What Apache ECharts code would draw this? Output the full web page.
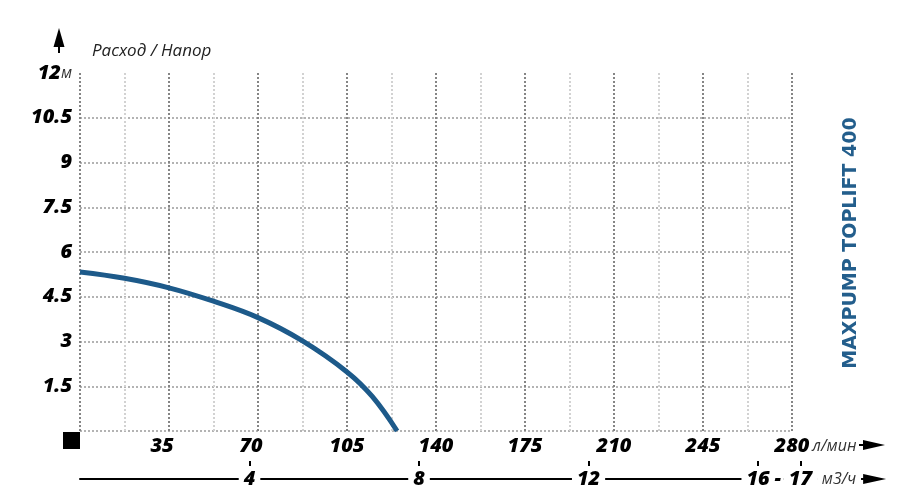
<!DOCTYPE html>
<html><head><meta charset="utf-8">
<script src="https://cdn.jsdelivr.net/npm/echarts@6/dist/echarts.min.js"></script>
<style>html,body{margin:0;padding:0;background:#fff}#c{width:915px;height:501px}</style>
</head><body><div id="c"></div>
<script>
// ---- data ----
const flowLpm = [0, 17.5, 35, 52.5, 70, 87.5, 105, 115, 124.7];
const headM   = [5.33, 5.12, 4.8, 4.35, 3.8, 3.02, 1.98, 1.15, 0];
const flowTicks = [35, 70, 105, 140, 175, 210, 245, 280];
const headTicks = [1.5, 3, 4.5, 6, 7.5, 9, 10.5, 12];
const m3hTicks = [4, 8, 12, 16, 17];
const yTitle = 'Расход / Напор';
const modelName = 'MAXPUMP TOPLIFT 400';
const unitFlow = 'л/мин';
const unitM3 = 'м3/ч';
const unitHead = 'м';

// ---- styles ----
const blue = '#1d5a8a';
const numFont = '"Open Sans", "Liberation Sans", sans-serif';
const numStyle = {fontFamily: numFont, fontSize: 20, fontWeight: 800, fontStyle: 'italic', color: '#000', lineHeight: 22};
const unitStyle = {fontFamily: numFont, fontSize: 16, fontWeight: 'normal', fontStyle: 'italic', color: '#333', lineHeight: 22};

const chart = echarts.init(document.getElementById('c'), null, {renderer: 'canvas'});
const seriesData = flowLpm.map((x, i) => [x, headM[i]]);

// the m³/h axis continues past the last tick up to its arrow (same px scale as 280 л/мин = 16.8 м³/ч)
const m3hAxisMax = 18.75;
const m3hLabelValues = m3hTicks.concat([m3hAxisMax]);

const option = {
  animation: false,
  grid: [
    {left: 80, right: 123, top: 73, bottom: 70, containLabel: false, outerBoundsMode: 'none'},
    {left: 80, right: 40.4, top: 470, height: 9, containLabel: false, outerBoundsMode: 'none'}
  ],
  xAxis: [
    {
      gridIndex: 0, type: 'value', min: 0, max: 280, interval: 35,
      axisLine: {show: false}, axisTick: {show: false},
      axisLabel: {
        margin: 4,
        showMinLabel: true, showMaxLabel: true, hideOverlap: false,
        customValues: flowTicks,
        formatter: v => v === flowTicks[flowTicks.length - 1]
          ? '{p|}{n|' + v + '}{u|' + unitFlow + '}'
          : (v < 100 ? '{n2|' + v + '}' : '{n|' + v + '}'),
        rich: {
          n: numStyle,
          n2: Object.assign({}, numStyle, {padding: [0, 14, 0, 0]}),
          u: Object.assign({}, unitStyle, {width: 50, align: 'left'}),
          p: {width: 50}
        }
      },
      splitLine: {show: true, lineStyle: {color: '#858585', width: 2, type: [2, 2]}},
      minorTick: {show: false, splitNumber: 2},
      minorSplitLine: {show: true, lineStyle: {color: '#d2d2d2', width: 2, type: [2, 2]}}
    },
    {
      gridIndex: 1, type: 'value', min: 0, max: m3hAxisMax, position: 'bottom',
      axisLine: {show: true, onZero: false, lineStyle: {color: '#000', width: 2}, symbol: ['none', 'triangle'], symbolSize: [10, 23]},
      axisTick: {show: true, inside: true, length: 18, customValues: m3hTicks, lineStyle: {color: '#000', width: 2}},
      axisLabel: {
        customValues: m3hLabelValues,
        hideOverlap: false,
        margin: 0,
        verticalAlign: 'middle',
        formatter: v => {
          if (m3hTicks.indexOf(v) < 0) return '';
          return v === m3hTicks[m3hTicks.length - 1]
            ? '{p|}{d|-}{n|' + v + '}{u|' + unitM3 + '}'
            : '{n|' + v + '}';
        },
        rich: {
          n: Object.assign({}, numStyle, {backgroundColor: '#fff', padding: [3, 5]}),
          d: Object.assign({}, numStyle, {backgroundColor: '#fff', width: 12, align: 'center', padding: [3, 0]}),
          u: Object.assign({}, unitStyle, {backgroundColor: '#fff', width: 44, align: 'left', padding: [3, 0]}),
          p: {width: 32}
        }
      },
      splitLine: {show: false}
    }
  ],
  yAxis: [
    {
      gridIndex: 0, type: 'value', min: 0, max: 12, interval: 1.5,
      name: yTitle, nameLocation: 'end', nameGap: 22,
      nameTextStyle: {fontFamily: numFont, fontSize: 17, fontStyle: 'italic', color: '#222', align: 'left', verticalAlign: 'middle', padding: [0, 0, 0, 12]},
      axisLine: {show: false}, axisTick: {show: false},
      axisLabel: {
        margin: 8,
        showMinLabel: true, showMaxLabel: true,
        customValues: headTicks,
        formatter: v => v === headTicks[headTicks.length - 1]
          ? '{n|' + v + '}{u|' + unitHead + '}'
          : '{n|' + v + '}',
        rich: {n: numStyle, u: unitStyle}
      },
      splitLine: {show: true, showMaxLine: false, lineStyle: {color: '#9a9a9a', width: 1.5, type: [2, 2]}}
    },
    {gridIndex: 1, type: 'value', show: false, min: 0, max: 1}
  ],
  series: [{
    type: 'line', xAxisIndex: 0, yAxisIndex: 0,
    data: seriesData, smooth: 0.4, showSymbol: false,
    lineStyle: {color: blue, width: 5, cap: 'butt'}
  }],
  graphic: [
    {type: 'polygon', shape: {points: [[59, 28], [64.5, 47], [53.5, 47]]}, style: {fill: '#000'}},
    {type: 'line', shape: {x1: 59, y1: 44, x2: 59, y2: 53}, style: {stroke: '#000', lineWidth: 2}},
    {type: 'rect', shape: {x: 63, y: 432, width: 17, height: 17}, style: {fill: '#000'}},
    {type: 'line', shape: {x1: 859, y1: 445, x2: 866, y2: 445}, style: {stroke: '#000', lineWidth: 2}},
    {type: 'polygon', shape: {points: [[863, 440], [885, 445], [863, 450]]}, style: {fill: '#000'}},
    {type: 'text', x: 851, y: 243, rotation: Math.PI / 2,
     style: {text: modelName, fill: '#235e8c', font: 'bold 19px "DejaVu Sans", sans-serif', textAlign: 'center', textVerticalAlign: 'middle'}}
  ]
};
chart.setOption(option);
</script>
</body></html>
